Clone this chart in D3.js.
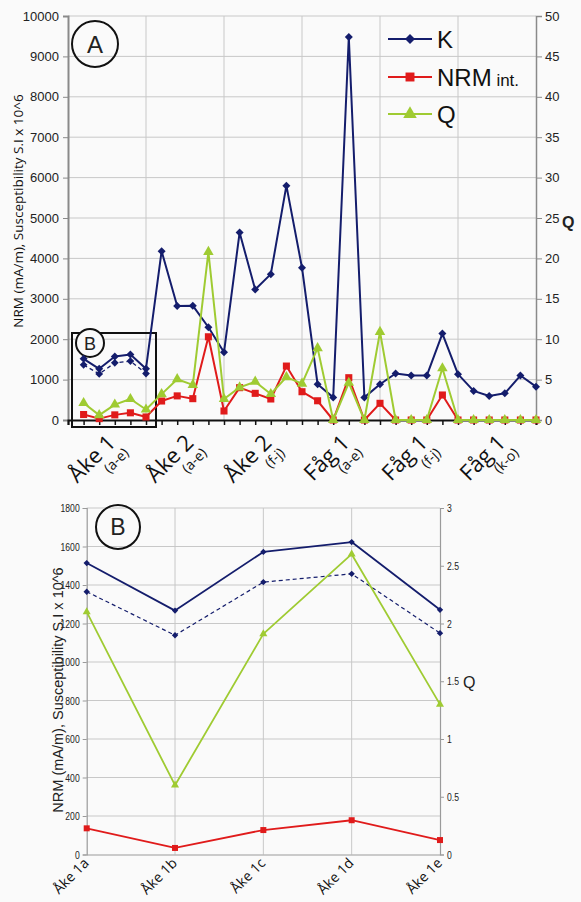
<!DOCTYPE html>
<html>
<head>
<meta charset="utf-8">
<script src="https://cdn.jsdelivr.net/npm/d3@7/dist/d3.min.js"></script>
<style>
  html, body { margin: 0; padding: 0; background: #fafafa; }
  svg { display: block; }
  text.num { font-family: 'Liberation Sans', Arial, sans-serif; fill: #222; }
  text.lbl { font-family: 'Open Sans', 'DejaVu Sans', sans-serif; fill: #111; }
  .grid line { stroke: #c8c8c8; stroke-width: 1; }
</style>
</head>
<body>
<svg id="chart" width="581" height="902"></svg>
<script>
// --- data ---
const groupNames = ['Åke 1', 'Åke 2', 'Åke 2', 'Fåg 1', 'Fåg 1', 'Fåg 1']
const groupSubs = ['(a-e)', '(a-e)', '(f-j)', '(a-e)', '(f-j)', '(k-o)']

// chart A, 30 samples, K and NRM on left axis, Q on right axis
const kA = [1514, 1267, 1572, 1623, 1271, 4180, 2820, 2830, 2295, 1675,
  4640, 3230, 3610, 5800, 3770, 885, 560, 9480, 560, 885,
  1150, 1100, 1100, 2140, 1135, 720, 595, 660, 1100, 825]
const kADashed = [1365, 1139, 1415, 1458, 1150]
const nrmA = [136, 34, 127, 178, 75, 470, 597, 528, 2060, 223,
  800, 660, 520, 1335, 700, 476, 0, 1047, 0, 413,
  0, 0, 0, 619, 0, 0, 0, 0, 0, 0]
const qA = [2.1, 0.6, 1.91, 2.6, 1.3, 3.2, 5.05, 4.35, 20.8, 2.6,
  4.04, 4.74, 3.22, 5.3, 4.5, 8.9, 0, 4.6, 0, 10.9,
  0, 0, 0, 6.4, 0, 0, 0, 0, 0, 0]

// chart B, Åke 1 detail
const samplesB = ['Åke 1a', 'Åke 1b', 'Åke 1c', 'Åke 1d', 'Åke 1e']
const kB = [1514, 1267, 1572, 1623, 1271]
const kBDashed = [1365, 1139, 1415, 1458, 1150]
const nrmB = [136, 34, 127, 178, 75]
const qB = [2.1, 0.6, 1.91, 2.6, 1.3]

const leftTitle = 'NRM (mA/m), Susceptibility S.I x 10^6'
const cK = '#141d6c'
const cN = '#e01b1b'
const cQ = '#9fcb32'

let svg = d3.select('#chart')

// squeeze text horizontally (the figure uses a condensed face)
function squeeze (sel, k) {
  sel.each(function () {
    let w = this.getComputedTextLength()
    d3.select(this).attr('textLength', w * k).attr('lengthAdjust', 'spacingAndGlyphs')
  })
}

// ============ chart A ============
let a = {left: 68, right: 536, top: 16, bottom: 420}
let xA = d3.scaleLinear().domain([0, 30]).range([a.left, a.right])
let yA = d3.scaleLinear().domain([0, 10000]).range([a.bottom, a.top])
let yAq = d3.scaleLinear().domain([0, 50]).range([a.bottom, a.top])
let xAi = i => xA(i + 1)

let gA = svg.append('g')

// grid
gA.append('g').attr('class', 'grid')
  .selectAll('line').data(d3.range(1000, 10001, 1000)).enter()
  .append('line')
  .attr('x1', a.left).attr('x2', a.right)
  .attr('y1', d => yA(d)).attr('y2', d => yA(d))
gA.append('g').attr('class', 'grid')
  .selectAll('line').data([5, 10, 15, 20, 25]).enter()
  .append('line')
  .attr('x1', d => xA(d)).attr('x2', d => xA(d))
  .attr('y1', a.top).attr('y2', a.bottom)

// axes
let axL = gA.append('g')
  .attr('transform', 'translate(' + a.left + ',0)')
  .call(d3.axisLeft(yA).tickValues(d3.range(0, 10001, 1000)).tickSize(5).tickPadding(4).tickFormat(d3.format('d')))
axL.select('.domain').attr('stroke', '#8a8a8a').attr('stroke-width', 2)
axL.selectAll('.tick line').attr('stroke', '#8a8a8a')
axL.selectAll('text').attr('class', 'num').attr('font-size', 13)

let axR = gA.append('g')
  .attr('transform', 'translate(' + a.right + ',0)')
  .call(d3.axisRight(yAq).tickValues(d3.range(0, 51, 5)).tickSize(6).tickPadding(3))
axR.select('.domain').attr('stroke', '#8a8a8a').attr('stroke-width', 1.5)
axR.selectAll('.tick line').attr('stroke', '#8a8a8a')
axR.selectAll('text').attr('class', 'num').attr('font-size', 13)

let axB = gA.append('g')
  .attr('transform', 'translate(0,' + a.bottom + ')')
  .call(d3.axisBottom(xA).tickValues(d3.range(0, 31)).tickSize(5).tickFormat(''))
axB.select('.domain').attr('stroke', '#111').attr('stroke-width', 2)
axB.selectAll('.tick line').attr('stroke', '#111').attr('stroke-width', 1.5)

// box around Åke 1 + label B
gA.append('rect')
  .attr('x', 72).attr('y', 333).attr('width', 84).attr('height', 94)
  .attr('fill', 'none').attr('stroke', '#111').attr('stroke-width', 2)
gA.append('circle').attr('cx', 90).attr('cy', 343).attr('r', 14)
  .attr('fill', '#fafafa').attr('stroke', '#111').attr('stroke-width', 2)
gA.append('text').attr('class', 'num').attr('x', 90).attr('y', 349.5)
  .attr('text-anchor', 'middle').attr('font-size', 18).text('B')

// series
function drawSeries (g, vals, xf, yf, color, width, symbol, size, rot, dash) {
  let line = d3.line().x((d, i) => xf(i)).y(d => yf(d))
  g.append('path').datum(vals)
    .attr('d', line)
    .attr('fill', 'none')
    .attr('stroke', color)
    .attr('stroke-width', width)
    .attr('stroke-dasharray', dash || null)
    .attr('stroke-linejoin', 'round')
  g.selectAll(null).data(vals).enter()
    .append('path')
    .attr('d', d3.symbol().type(symbol).size(size))
    .attr('transform', (d, i) => 'translate(' + xf(i) + ',' + yf(d) + ') rotate(' + rot + ')')
    .attr('fill', color)
}

let sA = gA.append('g')
drawSeries(sA, kADashed, xAi, yA, cK, 1.3, d3.symbolSquare, 30, 45, '4,3')
drawSeries(sA, kA, xAi, yA, cK, 2, d3.symbolSquare, 32, 45)
drawSeries(sA, nrmA, xAi, yA, cN, 2, d3.symbolSquare, 50, 0)
drawSeries(sA, qA, xAi, yAq, cQ, 2, d3.symbolTriangle, 48, 0)

// legend
let leg = gA.append('g')
let legItems = [
  {name: 'K', color: cK, symbol: d3.symbolSquare, size: 50, rot: 45, y: 39},
  {name: 'NRM', sub: ' int.', color: cN, symbol: d3.symbolSquare, size: 80, rot: 0, y: 77},
  {name: 'Q', color: cQ, symbol: d3.symbolTriangle, size: 80, rot: 0, y: 114}
]
legItems.forEach(function (it) {
  leg.append('line').attr('x1', 388).attr('x2', 432).attr('y1', it.y).attr('y2', it.y)
    .attr('stroke', it.color).attr('stroke-width', 2)
  leg.append('path').attr('d', d3.symbol().type(it.symbol).size(it.size))
    .attr('transform', 'translate(410,' + it.y + ') rotate(' + it.rot + ')')
    .attr('fill', it.color)
  let t = leg.append('text').attr('class', 'num').attr('x', 437).attr('y', it.y + 9)
    .attr('font-size', 24).style('fill', '#111').text(it.name)
  if (it.sub) t.append('tspan').attr('font-size', 17).text(it.sub)
})

// circle A
gA.append('circle').attr('cx', 95).attr('cy', 44).attr('r', 23)
  .attr('fill', 'none').attr('stroke', '#111').attr('stroke-width', 2)
gA.append('text').attr('class', 'num').attr('x', 95).attr('y', 52.5)
  .attr('text-anchor', 'middle').attr('font-size', 24).text('A')

// titles
gA.append('text').attr('class', 'lbl')
  .attr('transform', 'translate(23,211) rotate(-90)')
  .attr('text-anchor', 'middle').attr('font-size', 13.5).text(leftTitle)
gA.append('text').attr('class', 'num')
  .attr('x', 562).attr('y', 228).attr('font-size', 16).attr('font-weight', 'bold').text('Q')

// group labels
let gl = gA.selectAll('g.grp').data(groupNames).enter()
  .append('g')
  .attr('class', 'grp')
  .attr('transform', (d, i) => 'translate(' + (xA(i * 5 + 2.5) + 10) + ',444) rotate(-45)')
gl.append('text').attr('class', 'lbl')
  .attr('text-anchor', 'end').attr('font-size', 22).text(d => d)
gl.append('text').attr('class', 'lbl')
  .attr('x', 2).attr('y', 16)
  .attr('text-anchor', 'end').attr('font-size', 14).text((d, i) => groupSubs[i])

// ============ chart B ============
let b = {left: 86.7, right: 440, top: 508, bottom: 854.5}
let xB = d3.scalePoint().domain(samplesB).range([b.left, b.right])
let yB = d3.scaleLinear().domain([0, 1800]).range([b.bottom, b.top])
let yBq = d3.scaleLinear().domain([0, 3]).range([b.bottom, b.top])
let xBi = i => xB(samplesB[i])

let gB = svg.append('g')
gB.append('g').attr('class', 'grid')
  .selectAll('line').data(d3.range(200, 1801, 200)).enter()
  .append('line')
  .attr('x1', b.left).attr('x2', b.right)
  .attr('y1', d => yB(d)).attr('y2', d => yB(d))
gB.append('g').attr('class', 'grid')
  .selectAll('line').data(samplesB.slice(1, 4)).enter()
  .append('line')
  .attr('x1', d => xB(d)).attr('x2', d => xB(d))
  .attr('y1', b.top).attr('y2', b.bottom)

let bL = gB.append('g')
  .attr('transform', 'translate(' + b.left + ',0)')
  .call(d3.axisLeft(yB).tickValues(d3.range(0, 1801, 200)).tickSize(4).tickPadding(3).tickFormat(d3.format('d')))
bL.select('.domain').attr('stroke', '#9a9a9a').attr('stroke-width', 1.2)
bL.selectAll('.tick line').attr('stroke', '#9a9a9a')
bL.selectAll('text').attr('class', 'num').attr('font-size', 11.5).call(squeeze, 0.75)

let bR = gB.append('g')
  .attr('transform', 'translate(' + b.right + ',0)')
  .call(d3.axisRight(yBq).tickValues(d3.range(0, 3.01, 0.5)).tickSize(4).tickPadding(3).tickFormat(d3.format('~g')))
bR.select('.domain').attr('stroke', '#9a9a9a').attr('stroke-width', 1.2)
bR.selectAll('.tick line').attr('stroke', '#9a9a9a')
bR.selectAll('text').attr('class', 'num').attr('font-size', 11.5).call(squeeze, 0.75)

let bB = gB.append('g')
  .attr('transform', 'translate(0,' + b.bottom + ')')
  .call(d3.axisBottom(xB).tickSize(0).tickFormat(''))
bB.select('.domain').attr('stroke', '#9a9a9a').attr('stroke-width', 1.2)

let sB = gB.append('g')
drawSeries(sB, kBDashed, xBi, yB, cK, 1.2, d3.symbolSquare, 20, 45, '4,3')
drawSeries(sB, kB, xBi, yB, cK, 1.8, d3.symbolSquare, 20, 45)
drawSeries(sB, nrmB, xBi, yB, cN, 1.8, d3.symbolSquare, 36, 0)
drawSeries(sB, qB, xBi, yBq, cQ, 1.8, d3.symbolTriangle, 28, 0)

// sample labels
gB.selectAll('text.smp').data(samplesB).enter()
  .append('text')
  .attr('class', 'lbl')
  .attr('text-anchor', 'end')
  .attr('font-size', 14)
  .attr('transform', d => 'translate(' + (xB(d) + 3) + ',864) rotate(-45)')
  .text(d => d)

gB.append('circle').attr('cx', 118).attr('cy', 527).attr('r', 22)
  .attr('fill', 'none').attr('stroke', '#111').attr('stroke-width', 2)
gB.append('text').attr('class', 'num').attr('x', 118).attr('y', 535)
  .attr('text-anchor', 'middle').attr('font-size', 23).text('B')

gB.append('text').attr('class', 'num')
  .attr('transform', 'translate(63,690) rotate(-90)')
  .attr('text-anchor', 'middle').attr('font-size', 14.5).text(leftTitle)
gB.append('text').attr('class', 'num')
  .attr('x', 463).attr('y', 688).attr('font-size', 16).text('Q')
</script>
</body>
</html>
